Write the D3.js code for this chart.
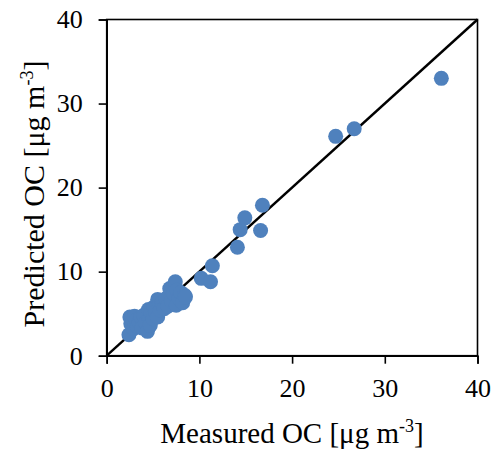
<!DOCTYPE html>
<html><head><meta charset="utf-8">
<script src="https://cdn.jsdelivr.net/npm/d3@7"></script>
<style>body{margin:0;background:#fff}</style>
</head><body>
<svg id="c" width="497" height="457"></svg>
<script>
const measured = [2.4,2.5,2.6,2.9,3.0,3.2,3.3,3.5,3.7,3.8,4.0,4.2,4.4,4.5,4.6,4.7,4.8,5.0,5.1,5.3,5.5,5.5,5.7,5.8,6.0,6.2,6.4,6.6,6.8,7.0,7.2,7.4,7.5,7.6,7.8,8.0,8.2,8.4,8.5,
  10.2,11.2,11.4,14.1,14.4,14.9,16.6,16.8,24.7,26.7,36.1];
const predicted = [2.5,4.6,3.8,3.2,4.7,4.2,3.5,4.0,4.6,3.3,4.8,3.9,2.9,5.5,4.3,3.6,5.0,4.4,5.8,5.2,6.7,4.6,6.0,5.4,6.3,5.6,6.8,5.9,8.0,6.5,7.4,8.8,6.0,7.8,6.8,7.5,6.3,7.2,7.0,
  9.2,8.8,10.7,12.9,15.0,16.4,14.9,17.9,26.1,27.0,33.0];
const ticks = [0,10,20,30,40];

const svg = d3.select("#c");
const x = d3.scaleLinear().domain([0,40]).range([106.7,477.5]);
const y = d3.scaleLinear().domain([0,40]).range([355.7,19.5]);
const FONT = "'Liberation Serif', 'Times New Roman', serif";

// 1:1 line
svg.append("line").attr("x1",x(0)).attr("y1",y(0)).attr("x2",x(40)).attr("y2",y(40))
  .attr("stroke","#000").attr("stroke-width",2.4);

// points
svg.append("g").selectAll("circle").data(measured).join("circle")
  .attr("cx",(d)=>x(d)).attr("cy",(d,i)=>y(predicted[i])).attr("r",7.5)
  .attr("fill","#4f81bd");

// frame
svg.append("rect").attr("x",x(0)).attr("y",y(40)).attr("width",x(40)-x(0)).attr("height",y(0)-y(40))
  .attr("fill","none").attr("stroke","#000").attr("stroke-width",1.6);

const xa = svg.append("g").attr("transform",`translate(0,${y(0)})`)
  .call(d3.axisBottom(x).tickValues(ticks).tickSize(8).tickPadding(15));
const ya = svg.append("g").attr("transform",`translate(${x(0)},0)`)
  .call(d3.axisLeft(y).tickValues(ticks).tickSize(8).tickPadding(16));
[xa,ya].forEach(a=>{
  a.select(".domain").attr("stroke","#000").attr("stroke-width",1.6);
  a.selectAll(".tick line").attr("stroke","#000").attr("stroke-width",1.6);
  a.selectAll(".tick text").attr("font-family",FONT).attr("font-size",26).attr("fill","#000");
});

const xt = svg.append("text").attr("x",292).attr("y",443).attr("text-anchor","middle")
  .attr("font-family",FONT).attr("font-size",29).attr("fill","#000");
xt.append("tspan").text("Measured OC [μg m");
xt.append("tspan").attr("font-size",18).attr("dy",-11).text("-3");
xt.append("tspan").attr("dy",11).text("]");

const yt = svg.append("text").attr("transform",`translate(44,194) rotate(-90)`).attr("text-anchor","middle")
  .attr("font-family",FONT).attr("font-size",30).attr("fill","#000");
yt.append("tspan").text("Predicted OC [μg m");
yt.append("tspan").attr("font-size",18).attr("dy",-11).text("-3");
yt.append("tspan").attr("dy",11).text("]");
</script>
</body></html>
